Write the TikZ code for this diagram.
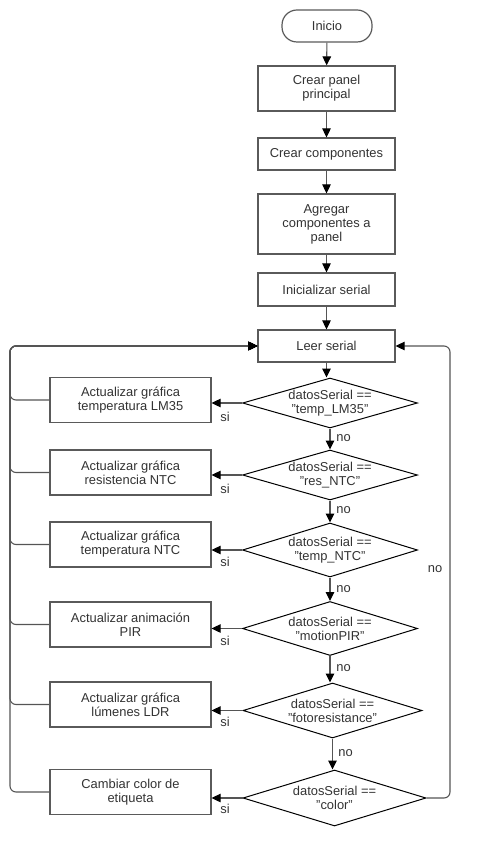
\documentclass[tikz,border=0pt]{standalone}
\usepackage{fontspec}
\setmainfont{Liberation Sans}
\usetikzlibrary{arrows.meta,shapes.geometric}
\definecolor{boxc}{HTML}{5A5A5A}
\definecolor{txt}{HTML}{333333}
\definecolor{linec}{HTML}{555555}
\begin{document}
\begin{tikzpicture}[x=1pt,y=-1pt,
  font=\fontsize{12.9}{14}\selectfont,
  box/.style={draw=boxc, line width=1.2pt, fill=white, text=txt, align=center, inner sep=0pt, minimum width=137pt},
  sidebox/.style={box, minimum width=161pt, minimum height=45pt},
  term/.style={box, rounded corners=15pt, minimum width=90pt, minimum height=32pt},
  dec/.style={draw=black, line width=1pt, diamond, inner sep=0pt, text=txt, minimum width=175pt},
  dtxt/.style={align=center, text=txt, inner sep=0pt},
  tip/.style={-{Triangle[width=8.5pt,length=9pt,color=black]}},
  flow/.style={line width=1.1pt, draw=linec, tip},
  ret/.style={line width=1.1pt, draw=linec, rounded corners=6pt, tip},
  lbl/.style={text=txt, inner sep=0pt}
]
\useasboundingbox (0,0) rectangle (491,866);

% main column
\node[term] (start) at (327,26) {Inicio};
\node[box, minimum height=45pt] (b1) at (326.5,88.5) {Crear panel\\principal};
\node[box, minimum height=32pt] (b2) at (326.5,154) {Crear componentes};
\node[box, minimum height=60pt] (b3) at (326.5,224) {Agregar\\componentes a\\panel};
\node[box, minimum height=33pt] (b4) at (326.5,289.5) {Inicializar serial};
\node[box, minimum height=32pt] (leer) at (326.5,346) {Leer serial};

% decisions
\node[dec, minimum height=50pt, label={[dtxt]center:datosSerial ==\\"temp\_LM35"}] (d1) at (330,403) {};
\node[dec, minimum height=50pt, label={[dtxt]center:datosSerial ==\\"res\_NTC"}] (d2) at (330,475) {};
\node[dec, minimum height=54pt, label={[dtxt]center:datosSerial ==\\"temp\_NTC"}] (d3) at (330,550) {};
\node[dec, minimum height=54pt, label={[dtxt]center:datosSerial ==\\"motionPIR"}] (d4) at (330,628.5) {};
\node[dec, minimum width=179pt, minimum height=55pt, label={[dtxt]center:datosSerial ==\\"fotoresistance"}] (d5) at (332.5,710.5) {};
\node[dec, minimum width=183pt, minimum height=56pt, label={[dtxt]center:datosSerial ==\\"color"}] (d6) at (334.5,798) {};

% side boxes
\node[sidebox] (a1) at (130.5,400) {Actualizar gráfica\\temperatura LM35};
\node[sidebox] (a2) at (130.5,472.5) {Actualizar gráfica\\resistencia NTC};
\node[sidebox] (a3) at (130.5,544.5) {Actualizar gráfica\\temperatura NTC};
\node[sidebox] (a4) at (130.5,624.5) {Actualizar animación\\PIR};
\node[sidebox] (a5) at (130.5,704.5) {Actualizar gráfica\\lúmenes LDR};
\node[sidebox] (a6) at (130.5,792) {Cambiar color de\\etiqueta};

\coordinate (lx) at (10,346);
\coordinate (rx) at (450,346);

% main flow
\draw[flow] (start) -- (b1);
\draw[flow] (b1) -- (b2);
\draw[flow] (b2) -- (b3);
\draw[flow] (b3) -- (b4);
\draw[flow] (b4) -- (leer);
\draw[flow] (leer.south) -- (leer.south |- d1.north);
\draw[flow] (d1.south) -- (d1.south |- d2.north);
\draw[flow] (d2.south) -- (d2.south |- d3.north);
\draw[flow] (d3.south) -- (d3.south |- d4.north);
\draw[flow] (d4.south) -- (d4.south |- d5.north);
\draw[flow] (d5.south) -- (d5.south |- d6.north);

% yes branches
\foreach \i in {1,...,6} {
  \draw[flow] (d\i.west) -- (d\i.west -| a\i.east);
  \draw[ret] (a\i.west) -| (lx) -- (leer.west);
}

% no loop
\draw[ret] (d6.east) -| (rx) -- (leer.east);

% labels
\node[lbl] (s1) at (225,417) {si};
\node[lbl] (s2) at (225,489) {si};
\node[lbl] (s3) at (225,562) {si};
\node[lbl] (s4) at (225,641) {si};
\node[lbl] (s5) at (225,722) {si};
\node[lbl] (s6) at (225,809) {si};
\node[lbl] (n1) at (343.5,438) {no};
\node[lbl] (n2) at (343.5,510) {no};
\node[lbl] (n3) at (343.5,589) {no};
\node[lbl] (n4) at (343.5,668) {no};
\node[lbl] (n5) at (345.5,753) {no};
\node[lbl] (n6) at (435,569) {no};
\end{tikzpicture}
\end{document}
